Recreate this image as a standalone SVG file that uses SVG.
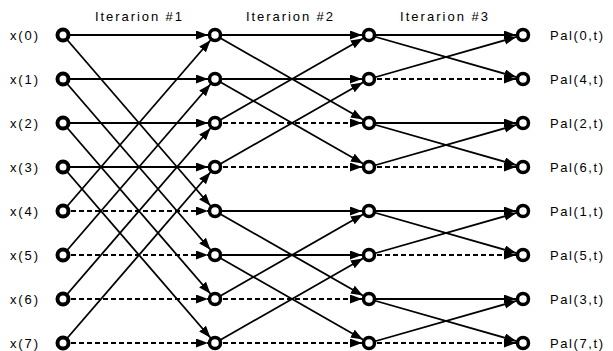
<svg xmlns="http://www.w3.org/2000/svg" width="613" height="351" viewBox="0 0 613 351">
  <style>
    text { font-family: "Liberation Sans", Arial, sans-serif; font-size: 13px; fill: #000; }
    .e { stroke: #000; stroke-width: 1.8; fill: none; marker-end: url(#arrow); }
    .d { stroke-dasharray: 5 3; }
    .n { fill: #fff; stroke: #000; stroke-width: 3.5; }
    .in { stroke-width: 4; }
  </style>
  <defs>
    <!-- filled arrowhead, tip stops at the rim of the target circle -->
    <marker id="arrow" markerUnits="userSpaceOnUse" markerWidth="22" markerHeight="10" viewBox="0 0 22 10" refX="19" refY="4.5" orient="auto">
      <path d="M0,0 L12,4.5 L0,9 Z" fill="#000"/>
    </marker>
  </defs>
  <rect width="613" height="351" fill="#fff"/>

  <!-- stage titles -->
  <g id="titles">
    <text x="95" y="20.5" textLength="87" lengthAdjust="spacing">Iterarion #1</text>
    <text x="246" y="20.5" textLength="87" lengthAdjust="spacing">Iterarion #2</text>
    <text x="400" y="20.5" textLength="88" lengthAdjust="spacing">Iterarion #3</text>
  </g>

  <!-- butterfly connectors -->
  <g id="connectors">
    <!-- stage 1: span 4 -->
    <line class="e" x1="63" y1="35" x2="215" y2="35"/>
    <line class="e" x1="63" y1="35" x2="215" y2="211"/>
    <line class="e" x1="63" y1="79" x2="215" y2="79"/>
    <line class="e" x1="63" y1="79" x2="215" y2="255"/>
    <line class="e" x1="63" y1="123" x2="215" y2="123"/>
    <line class="e" x1="63" y1="123" x2="215" y2="299"/>
    <line class="e" x1="63" y1="167" x2="215" y2="167"/>
    <line class="e" x1="63" y1="167" x2="215" y2="343"/>
    <line class="e" x1="63" y1="211" x2="215" y2="35"/>
    <line class="e d" x1="63" y1="211" x2="215" y2="211"/>
    <line class="e" x1="63" y1="255" x2="215" y2="79"/>
    <line class="e d" x1="63" y1="255" x2="215" y2="255"/>
    <line class="e" x1="63" y1="299" x2="215" y2="123"/>
    <line class="e d" x1="63" y1="299" x2="215" y2="299"/>
    <line class="e" x1="63" y1="343" x2="215" y2="167"/>
    <line class="e d" x1="63" y1="343" x2="215" y2="343"/>

    <!-- stage 2: span 2 -->
    <line class="e" x1="215" y1="35" x2="369" y2="35"/>
    <line class="e" x1="215" y1="35" x2="369" y2="123"/>
    <line class="e" x1="215" y1="79" x2="369" y2="79"/>
    <line class="e" x1="215" y1="79" x2="369" y2="167"/>
    <line class="e" x1="215" y1="123" x2="369" y2="35"/>
    <line class="e d" x1="215" y1="123" x2="369" y2="123"/>
    <line class="e" x1="215" y1="167" x2="369" y2="79"/>
    <line class="e d" x1="215" y1="167" x2="369" y2="167"/>
    <line class="e" x1="215" y1="211" x2="369" y2="211"/>
    <line class="e" x1="215" y1="211" x2="369" y2="299"/>
    <line class="e" x1="215" y1="255" x2="369" y2="255"/>
    <line class="e" x1="215" y1="255" x2="369" y2="343"/>
    <line class="e" x1="215" y1="299" x2="369" y2="211"/>
    <line class="e d" x1="215" y1="299" x2="369" y2="299"/>
    <line class="e" x1="215" y1="343" x2="369" y2="255"/>
    <line class="e d" x1="215" y1="343" x2="369" y2="343"/>

    <!-- stage 3: span 1 -->
    <line class="e" x1="369" y1="35" x2="523" y2="35"/>
    <line class="e" x1="369" y1="35" x2="523" y2="79"/>
    <line class="e" x1="369" y1="79" x2="523" y2="35"/>
    <line class="e d" x1="369" y1="79" x2="523" y2="79"/>
    <line class="e" x1="369" y1="123" x2="523" y2="123"/>
    <line class="e" x1="369" y1="123" x2="523" y2="167"/>
    <line class="e" x1="369" y1="167" x2="523" y2="123"/>
    <line class="e d" x1="369" y1="167" x2="523" y2="167"/>
    <line class="e" x1="369" y1="211" x2="523" y2="211"/>
    <line class="e" x1="369" y1="211" x2="523" y2="255"/>
    <line class="e" x1="369" y1="255" x2="523" y2="211"/>
    <line class="e d" x1="369" y1="255" x2="523" y2="255"/>
    <line class="e" x1="369" y1="299" x2="523" y2="299"/>
    <line class="e" x1="369" y1="299" x2="523" y2="343"/>
    <line class="e" x1="369" y1="343" x2="523" y2="299"/>
    <line class="e d" x1="369" y1="343" x2="523" y2="343"/>
  </g>

  <!-- inputs -->
  <g id="in0"><circle class="n in" cx="63" cy="35" r="5.5"/><text x="10" y="39.5" textLength="28" lengthAdjust="spacing">x(0)</text></g>
  <g id="in1"><circle class="n in" cx="63" cy="79" r="5.5"/><text x="10" y="83.5" textLength="28" lengthAdjust="spacing">x(1)</text></g>
  <g id="in2"><circle class="n in" cx="63" cy="123" r="5.5"/><text x="10" y="127.5" textLength="28" lengthAdjust="spacing">x(2)</text></g>
  <g id="in3"><circle class="n in" cx="63" cy="167" r="5.5"/><text x="10" y="171.5" textLength="28" lengthAdjust="spacing">x(3)</text></g>
  <g id="in4"><circle class="n in" cx="63" cy="211" r="5.5"/><text x="10" y="215.5" textLength="28" lengthAdjust="spacing">x(4)</text></g>
  <g id="in5"><circle class="n in" cx="63" cy="255" r="5.5"/><text x="10" y="259.5" textLength="28" lengthAdjust="spacing">x(5)</text></g>
  <g id="in6"><circle class="n in" cx="63" cy="299" r="5.5"/><text x="10" y="303.5" textLength="28" lengthAdjust="spacing">x(6)</text></g>
  <g id="in7"><circle class="n in" cx="63" cy="343" r="5.5"/><text x="10" y="347.5" textLength="28" lengthAdjust="spacing">x(7)</text></g>

  <!-- stage 1 outputs -->
  <g id="s1n0"><circle class="n" cx="215" cy="35" r="5.5"/></g>
  <g id="s1n1"><circle class="n" cx="215" cy="79" r="5.5"/></g>
  <g id="s1n2"><circle class="n" cx="215" cy="123" r="5.5"/></g>
  <g id="s1n3"><circle class="n" cx="215" cy="167" r="5.5"/></g>
  <g id="s1n4"><circle class="n" cx="215" cy="211" r="5.5"/></g>
  <g id="s1n5"><circle class="n" cx="215" cy="255" r="5.5"/></g>
  <g id="s1n6"><circle class="n" cx="215" cy="299" r="5.5"/></g>
  <g id="s1n7"><circle class="n" cx="215" cy="343" r="5.5"/></g>

  <!-- stage 2 outputs -->
  <g id="s2n0"><circle class="n" cx="369" cy="35" r="5.5"/></g>
  <g id="s2n1"><circle class="n" cx="369" cy="79" r="5.5"/></g>
  <g id="s2n2"><circle class="n" cx="369" cy="123" r="5.5"/></g>
  <g id="s2n3"><circle class="n" cx="369" cy="167" r="5.5"/></g>
  <g id="s2n4"><circle class="n" cx="369" cy="211" r="5.5"/></g>
  <g id="s2n5"><circle class="n" cx="369" cy="255" r="5.5"/></g>
  <g id="s2n6"><circle class="n" cx="369" cy="299" r="5.5"/></g>
  <g id="s2n7"><circle class="n" cx="369" cy="343" r="5.5"/></g>

  <!-- outputs -->
  <g id="out0"><circle class="n" cx="523" cy="35" r="5.5"/><text x="550" y="39.5" textLength="53" lengthAdjust="spacing">Pal(0,t)</text></g>
  <g id="out1"><circle class="n" cx="523" cy="79" r="5.5"/><text x="550" y="83.5" textLength="53" lengthAdjust="spacing">Pal(4,t)</text></g>
  <g id="out2"><circle class="n" cx="523" cy="123" r="5.5"/><text x="550" y="127.5" textLength="53" lengthAdjust="spacing">Pal(2,t)</text></g>
  <g id="out3"><circle class="n" cx="523" cy="167" r="5.5"/><text x="550" y="171.5" textLength="53" lengthAdjust="spacing">Pal(6,t)</text></g>
  <g id="out4"><circle class="n" cx="523" cy="211" r="5.5"/><text x="550" y="215.5" textLength="53" lengthAdjust="spacing">Pal(1,t)</text></g>
  <g id="out5"><circle class="n" cx="523" cy="255" r="5.5"/><text x="550" y="259.5" textLength="53" lengthAdjust="spacing">Pal(5,t)</text></g>
  <g id="out6"><circle class="n" cx="523" cy="299" r="5.5"/><text x="550" y="303.5" textLength="53" lengthAdjust="spacing">Pal(3,t)</text></g>
  <g id="out7"><circle class="n" cx="523" cy="343" r="5.5"/><text x="550" y="347.5" textLength="53" lengthAdjust="spacing">Pal(7,t)</text></g>
</svg>
